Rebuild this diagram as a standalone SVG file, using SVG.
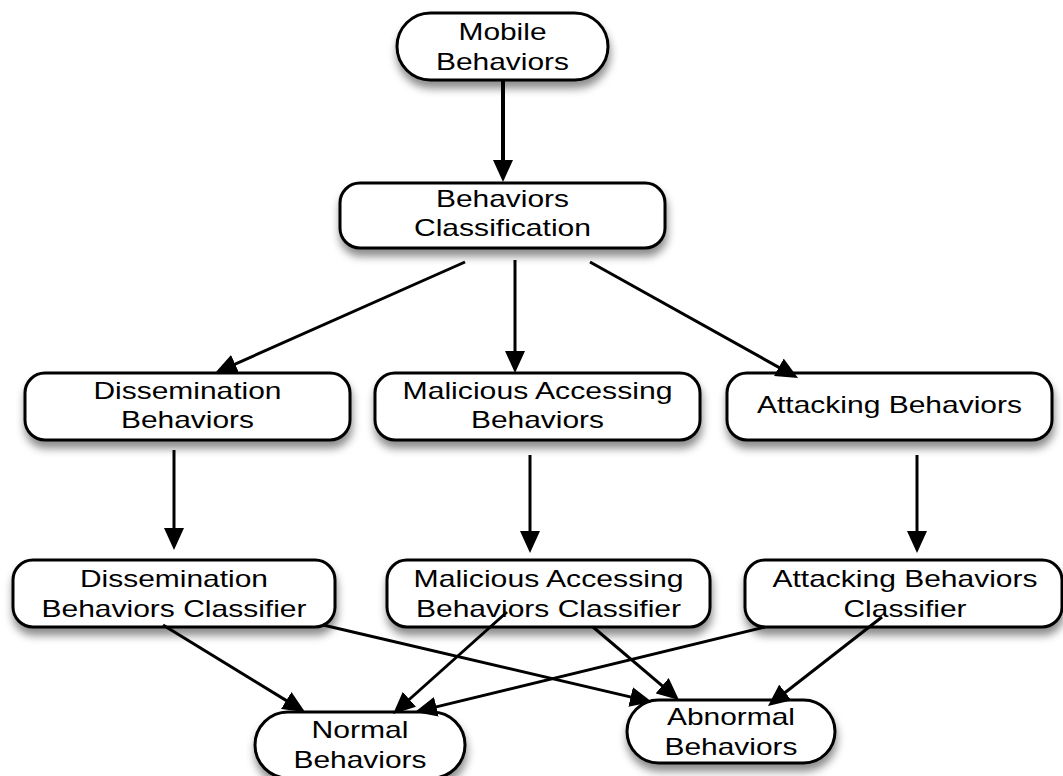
<svg xmlns="http://www.w3.org/2000/svg" width="1063" height="776" viewBox="0 0 1063 776">
  <style>
    .box { fill: #ffffff; stroke: #000000; stroke-width: 3; filter: url(#shadow); }
    .lbl { font-family: "Liberation Sans", Arial, sans-serif; font-size: 24px; fill: #000000; text-anchor: middle; }
    .edge { fill: none; stroke: #000000; stroke-width: 3; marker-end: url(#head); }
    .edge.thick { stroke-width: 4; }
  </style>
  <defs>
    <filter id="shadow" x="-10%" y="-20%" width="120%" height="160%">
      <feDropShadow dx="1" dy="7" stdDeviation="4" flood-color="#000000" flood-opacity="0.45"/>
    </filter>
    <marker id="head" markerUnits="userSpaceOnUse" markerWidth="22" markerHeight="20" refX="16" refY="10" orient="auto">
      <path d="M0,0 L22,10 L0,20 Z" fill="#000000"/>
    </marker>
  </defs>
  <rect width="1063" height="776" fill="#ffffff"/>

  <g id="node-mobile">
    <rect class="box" x="397" y="13" width="211" height="67" rx="33.5"/>
    <text class="lbl" x="502.5" y="40" textLength="88" lengthAdjust="spacingAndGlyphs">Mobile</text>
    <text class="lbl" x="502.5" y="70" textLength="133" lengthAdjust="spacingAndGlyphs">Behaviors</text>
  </g>

  <g id="node-classification">
    <rect class="box" x="340" y="183" width="325" height="65" rx="20"/>
    <text class="lbl" x="502.5" y="207" textLength="133" lengthAdjust="spacingAndGlyphs">Behaviors</text>
    <text class="lbl" x="502.5" y="236" textLength="177" lengthAdjust="spacingAndGlyphs">Classification</text>
  </g>

  <g id="node-dissemination">
    <rect class="box" x="25" y="373" width="325" height="67" rx="20"/>
    <text class="lbl" x="187.5" y="399" textLength="188" lengthAdjust="spacingAndGlyphs">Dissemination</text>
    <text class="lbl" x="187.5" y="428" textLength="133" lengthAdjust="spacingAndGlyphs">Behaviors</text>
  </g>

  <g id="node-malicious">
    <rect class="box" x="375" y="373" width="325" height="67" rx="20"/>
    <text class="lbl" x="537.5" y="399" textLength="270" lengthAdjust="spacingAndGlyphs">Malicious Accessing</text>
    <text class="lbl" x="537.5" y="428" textLength="133" lengthAdjust="spacingAndGlyphs">Behaviors</text>
  </g>

  <g id="node-attacking">
    <rect class="box" x="727" y="373" width="325" height="67" rx="20"/>
    <text class="lbl" x="889.5" y="413" textLength="265" lengthAdjust="spacingAndGlyphs">Attacking Behaviors</text>
  </g>

  <g id="node-dissemination-classifier">
    <rect class="box" x="13" y="560" width="322" height="67" rx="20"/>
    <text class="lbl" x="174" y="587" textLength="188" lengthAdjust="spacingAndGlyphs">Dissemination</text>
    <text class="lbl" x="174" y="617" textLength="265" lengthAdjust="spacingAndGlyphs">Behaviors Classifier</text>
  </g>

  <g id="node-malicious-classifier">
    <rect class="box" x="387" y="560" width="323" height="67" rx="20"/>
    <text class="lbl" x="548.5" y="587" textLength="270" lengthAdjust="spacingAndGlyphs">Malicious Accessing</text>
    <text class="lbl" x="548.5" y="617" textLength="265" lengthAdjust="spacingAndGlyphs">Behaviors Classifier</text>
  </g>

  <g id="node-attacking-classifier">
    <rect class="box" x="745" y="560" width="317" height="67" rx="20"/>
    <text class="lbl" x="905" y="587" textLength="265" lengthAdjust="spacingAndGlyphs">Attacking Behaviors</text>
    <text class="lbl" x="905" y="617" textLength="123" lengthAdjust="spacingAndGlyphs">Classifier</text>
  </g>

  <g id="node-normal">
    <rect class="box" x="255" y="712" width="210" height="66" rx="33"/>
    <text class="lbl" x="360" y="738" textLength="97" lengthAdjust="spacingAndGlyphs">Normal</text>
    <text class="lbl" x="360" y="768" textLength="133" lengthAdjust="spacingAndGlyphs">Behaviors</text>
  </g>

  <g id="node-abnormal">
    <rect class="box" x="627" y="700" width="208" height="63" rx="31.5"/>
    <text class="lbl" x="731" y="725" textLength="128" lengthAdjust="spacingAndGlyphs">Abnormal</text>
    <text class="lbl" x="731" y="755" textLength="133" lengthAdjust="spacingAndGlyphs">Behaviors</text>
  </g>

  <g id="connectors">
    <line class="edge thick" x1="503" y1="80" x2="503" y2="176"/>
    <line class="edge" x1="465" y1="262" x2="220.5" y2="370.6"/>
    <line class="edge" x1="515" y1="260" x2="515" y2="367"/>
    <line class="edge" x1="590" y1="262" x2="792.8" y2="375.1"/>
    <line class="edge" x1="174" y1="450" x2="174" y2="544"/>
    <line class="edge" x1="530" y1="455" x2="530" y2="547"/>
    <line class="edge" x1="917" y1="455" x2="917" y2="547"/>
    <line class="edge" x1="163" y1="625" x2="299.9" y2="708.9"/>
    <line class="edge" x1="323" y1="625" x2="646.2" y2="700.6"/>
    <line class="edge" x1="507" y1="612" x2="397.5" y2="710"/>
    <line class="edge" x1="593" y1="627" x2="674.4" y2="696.1"/>
    <line class="edge" x1="765" y1="627" x2="420.8" y2="710.6"/>
    <line class="edge" x1="882" y1="617" x2="772.7" y2="702.3"/>
  </g>
</svg>
